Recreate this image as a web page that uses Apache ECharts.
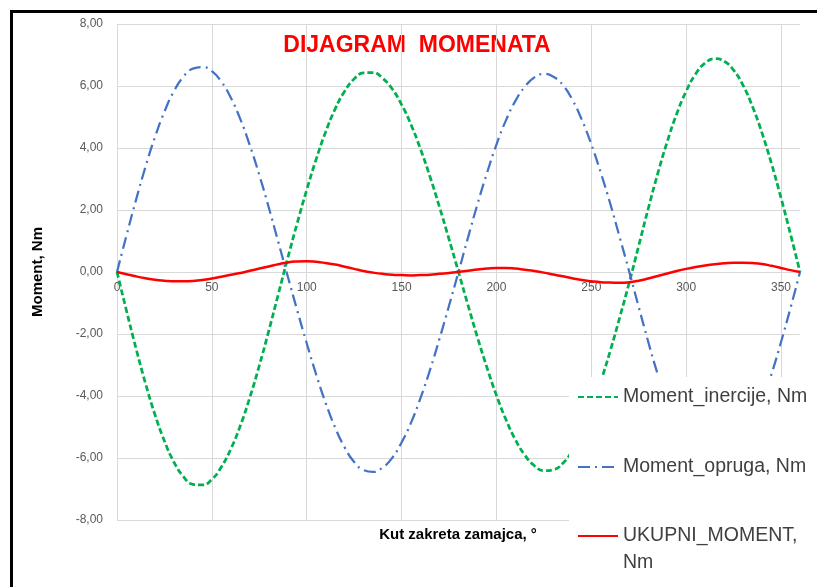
<!DOCTYPE html>
<html>
<head>
<meta charset="utf-8">
<script src="https://cdn.jsdelivr.net/npm/echarts@6/dist/echarts.min.js"></script>
<style>
  html, body { margin: 0; padding: 0; background: #ffffff; }
  #chart { width: 817px; height: 587px; }
</style>
</head>
<body>
<div id="chart"></div>
<script>
// Kut zakreta zamajca (degrees)
const angles = [
  0, 5, 10, 15, 20, 25, 30, 35, 40, 45, 50, 55, 60, 65, 70, 75, 80, 85, 90,
  95, 100, 105, 110, 115, 120, 125, 130, 135, 140, 145, 150, 155, 160, 165, 170, 175, 180,
  185, 190, 195, 200, 205, 210, 215, 220, 225, 230, 235, 240, 245, 250, 255, 260, 265, 270,
  275, 280, 285, 290, 295, 300, 305, 310, 315, 320, 325, 330, 335, 340, 345, 350, 355, 360
];

// Moment inercije, Nm
const momentInercije = [
  0, -1.25, -2.46, -3.59, -4.60, -5.45, -6.13, -6.60, -6.85, -6.87, -6.69, -6.29, -5.71, -4.96, -4.05, -3.02, -1.90, -0.72, 0.45,
  1.58, 2.65, 3.64, 4.52, 5.26, 5.83, 6.23, 6.42, 6.43, 6.25, 5.91, 5.40, 4.75, 3.96, 3.07, 2.09, 1.06, 0,
  -1.07, -2.11, -3.08, -3.98, -4.76, -5.41, -5.91, -6.25, -6.41, -6.38, -6.17, -5.76, -5.17, -4.42, -3.53, -2.54, -1.46, -0.34,
  0.85, 2.04, 3.17, 4.20, 5.10, 5.83, 6.39, 6.74, 6.88, 6.80, 6.51, 6.02, 5.33, 4.48, 3.49, 2.39, 1.22, 0
];

// Moment opruga, Nm
const momentOpruga = [
  0, 1.18, 2.32, 3.39, 4.35, 5.17, 5.83, 6.30, 6.56, 6.61, 6.48, 6.14, 5.62, 4.93, 4.09, 3.13, 2.08, 0.97, -0.14,
  -1.24, -2.30, -3.31, -4.23, -5.02, -5.66, -6.13, -6.39, -6.45, -6.31, -6.00, -5.50, -4.86, -4.06, -3.16, -2.15, -1.09, 0,
  1.11, 2.19, 3.19, 4.11, 4.89, 5.52, 5.98, 6.28, 6.39, 6.30, 6.03, 5.56, 4.91, 4.12, 3.20, 2.20, 1.11, 0.01,
  -1.13, -2.25, -3.30, -4.25, -5.07, -5.73, -6.23, -6.53, -6.63, -6.52, -6.21, -5.72, -5.04, -4.22, -3.29, -2.26, -1.16, 0
];

// Ukupni moment, Nm
const ukupniMoment = [
  0, -0.07, -0.14, -0.20, -0.25, -0.28, -0.30, -0.30, -0.29, -0.26, -0.21, -0.15, -0.09, -0.03, 0.04, 0.11, 0.18, 0.25, 0.31,
  0.34, 0.35, 0.33, 0.29, 0.24, 0.17, 0.10, 0.03, -0.02, -0.06, -0.09, -0.10, -0.11, -0.10, -0.09, -0.06, -0.03, 0,
  0.04, 0.08, 0.11, 0.13, 0.13, 0.11, 0.07, 0.03, -0.02, -0.08, -0.14, -0.20, -0.26, -0.30, -0.33, -0.34, -0.35, -0.33,
  -0.28, -0.21, -0.13, -0.05, 0.03, 0.10, 0.16, 0.21, 0.25, 0.28, 0.30, 0.30, 0.29, 0.26, 0.20, 0.13, 0.06, 0
];

const seriesNames = ['Moment_inercije, Nm', 'Moment_opruga, Nm', 'UKUPNI_MOMENT, Nm'];

const FONT = '"Liberation Sans", Arial, sans-serif';
const GRID_COLOR = '#d9d9d9';
const LABEL_COLOR = '#595959';

const pairs = (values) => angles.map((a, i) => [a, values[i]]);

const chart = echarts.init(document.getElementById('chart'), null, { renderer: 'canvas' });

const GRID_TOP = 24;
const GRID_BOTTOM = 67;
const GRID_HEIGHT = 587 - GRID_TOP - GRID_BOTTOM;

// shared look of the two legend blocks on the right
const legendBase = {
  orient: 'vertical',
  left: 569,
  itemWidth: 40,
  itemHeight: 14,
  backgroundColor: '#ffffff',
  itemStyle: { color: 'rgba(0,0,0,0)', borderColor: 'rgba(0,0,0,0)', borderWidth: 0 },
  textStyle: { fontFamily: FONT, fontSize: 19.5, color: '#404040', lineHeight: 27 }
};

chart.setOption({
  animation: false,
  backgroundColor: '#ffffff',
  grid: { left: 117, right: 17, top: GRID_TOP, bottom: GRID_BOTTOM, containLabel: false },
  xAxis: {
    type: 'value',
    min: 0,
    max: 360,
    interval: 50,
    // the angle axis runs through the middle of the plot, where the moment is zero
    offset: -GRID_HEIGHT / 2,
    axisLine: { onZero: false, lineStyle: { color: GRID_COLOR, width: 1 } },
    axisTick: { show: false },
    axisLabel: { color: LABEL_COLOR, fontFamily: FONT, fontSize: 12, margin: 10, showMaxLabel: false },
    splitLine: { show: true, showMaxLine: false, lineStyle: { color: GRID_COLOR, width: 1 } }
  },
  yAxis: {
    type: 'value',
    min: -8,
    max: 8,
    interval: 2,
    name: 'Moment, Nm',
    nameLocation: 'middle',
    nameGap: 72,
    nameTextStyle: { color: '#000000', fontFamily: FONT, fontSize: 15, fontWeight: 'bold' },
    axisLine: { show: false },
    axisTick: { show: false },
    axisLabel: {
      color: LABEL_COLOR, fontFamily: FONT, fontSize: 12, margin: 14,
      formatter: (v) => v.toFixed(2).replace('.', ',')
    },
    splitLine: { show: true, lineStyle: { color: GRID_COLOR, width: 1 } }
  },
  legend: [
    Object.assign({}, legendBase, {
      top: 377,
      height: 150,
      padding: [6.5, 40, 0, 8],
      itemGap: 43,
      data: [seriesNames[0], seriesNames[1]]
    }),
    Object.assign({}, legendBase, {
      top: 480,
      height: 200,
      padding: [15.5, 40, 20, 8],
      itemGap: 10,
      // empty first line keeps the marker level with "UKUPNI_MOMENT,"
      formatter: () => '\nUKUPNI_MOMENT,\nNm',
      data: [seriesNames[2]]
    })
  ],
  series: [
    {
      name: seriesNames[0],
      type: 'line',
      data: pairs(momentInercije),
      smooth: true,
      symbol: 'none',
      showSymbol: false,
      lineStyle: { color: '#00b050', width: 2.75, type: [6, 3] },
      itemStyle: { color: '#00b050' }
    },
    {
      name: seriesNames[1],
      type: 'line',
      data: pairs(momentOpruga),
      smooth: true,
      symbol: 'none',
      showSymbol: false,
      lineStyle: { color: '#4472c4', width: 2.25, type: [12, 5, 2, 5] },
      itemStyle: { color: '#4472c4' }
    },
    {
      name: seriesNames[2],
      type: 'line',
      data: pairs(ukupniMoment),
      smooth: true,
      symbol: 'none',
      showSymbol: false,
      lineStyle: { color: '#ff0000', width: 2.5 },
      itemStyle: { color: '#ff0000' }
    }
  ],
  graphic: [
    {
      type: 'rect',
      silent: true,
      z: 100,
      shape: { x: 11.5, y: 11.5, width: 900, height: 700 },
      style: { fill: null, stroke: '#000000', lineWidth: 3 }
    },
    {
      type: 'text',
      silent: true,
      x: 417,
      y: 46,
      style: {
        text: 'DIJAGRAM  MOMENATA',
        fill: '#ff0000',
        font: 'bold 23px "Liberation Sans", Arial, sans-serif',
        align: 'center',
        verticalAlign: 'middle'
      }
    },
    {
      type: 'text',
      silent: true,
      x: 458,
      y: 535,
      style: {
        text: 'Kut zakreta zamajca, °',
        fill: '#000000',
        font: 'bold 15px "Liberation Sans", Arial, sans-serif',
        align: 'center',
        verticalAlign: 'middle'
      }
    }
  ]
});
</script>
</body>
</html>
